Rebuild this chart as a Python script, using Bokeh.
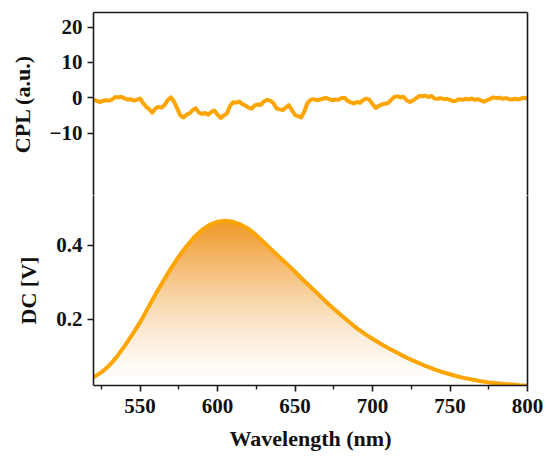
import numpy as np
from bokeh.plotting import figure
from bokeh.layouts import column
from bokeh.models import Range1d, LinearAxis, FixedTicker
from bokeh.embed import file_html
from bokeh.resources import INLINE

# ---------------- data ----------------
cpl_wavelength = list(range(520, 802, 2))
cpl_values = [
    -0.5, -0.9, -1.2, -0.9, -0.7, -0.8, -0.5, 0.2, 0.1, 0.3,
    -0.2, -0.5, -0.4, -0.8, -0.6, -0.2, -1.5, -2.6, -3.3, -4.2,
    -3.0, -2.6, -2.8, -2.0, -0.6, 0.1, -1.2, -3.0, -5.0, -5.6,
    -4.8, -4.4, -3.5, -3.0, -4.2, -4.6, -4.3, -4.8, -4.0, -3.6,
    -4.8, -5.7, -5.0, -4.5, -2.4, -1.3, -1.4, -1.1, -1.8, -2.2,
    -2.8, -3.1, -2.2, -1.9, -2.0, -1.0, -0.6, -0.8, -1.5, -3.0,
    -3.3, -3.5, -2.8, -2.1, -3.5, -4.9, -5.2, -5.6, -3.9, -1.5,
    -0.6, -0.4, -0.7, -0.5, -0.3, 0.0, -0.4, -0.7, -0.5, -0.6,
    -0.1, 0.0, -0.9, -1.3, -1.6, -1.2, -1.4, -0.6, -0.2, -0.6,
    -1.8, -2.9, -2.3, -1.9, -1.7, -1.5, -0.6, 0.2, 0.4, 0.1,
    0.3, -0.7, -1.2, -0.8, -0.2, 0.5, 0.4, 0.6, 0.2, 0.5,
    -0.2, -0.3, -0.1, -0.4, -0.3, -0.6, -1.0, -0.8, -0.4, -0.6,
    -0.3, -0.5, -0.2, -0.6, -0.4, -0.8, -1.1, -0.7, -0.3, 0.1,
    -0.1, 0.0, -0.3, -0.1, -0.4, -0.5, -0.3, -0.5, -0.2, 0.0,
    -0.2,
]

dc_wavelength = list(range(520, 805, 5))
dc_values = [
    0.044, 0.057, 0.075, 0.099, 0.128, 0.159, 0.192, 0.230, 0.268, 0.304,
    0.338, 0.370, 0.398, 0.423, 0.442, 0.456, 0.464, 0.467, 0.464, 0.456,
    0.445, 0.428, 0.408, 0.388, 0.368, 0.349, 0.329, 0.308, 0.288, 0.268,
    0.248, 0.229, 0.211, 0.193, 0.176, 0.161, 0.148, 0.135, 0.123, 0.112,
    0.101, 0.091, 0.082, 0.073, 0.065, 0.058, 0.052, 0.046, 0.041, 0.037,
    0.033, 0.030, 0.028, 0.026, 0.024, 0.022, 0.021,
]

x_ticks = [550, 600, 650, 700, 750, 800]
x_minor = [525, 575, 625, 675, 725, 775]
cpl_ticks = [-10, 0, 10, 20]
dc_ticks = [0.2, 0.4]

# ---------------- styles ----------------
FONT = "Liberation Serif"
AX = "#1a1a1a"
LINE = "#FFA500"
W = 546
LEFT, RIGHT = 93, 19

xr = Range1d(520, 800)


def frame_axis(**kw):
    return LinearAxis(ticker=FixedTicker(ticks=[]), major_tick_out=0, major_tick_in=0,
                      minor_tick_out=0, minor_tick_in=0, major_label_text_font_size="0px",
                      major_label_standoff=0, axis_line_color=AX, axis_line_width=1.6, **kw)


def style_y(ax, label):
    ax.axis_label = label
    ax.axis_label_text_font = FONT
    ax.axis_label_text_font_style = "bold"
    ax.axis_label_text_font_size = "22px"
    ax.axis_label_text_color = "#111111"
    ax.axis_label_standoff = 12
    ax.major_label_text_font = FONT
    ax.major_label_text_font_style = "bold"
    ax.major_label_text_font_size = "21px"
    ax.major_label_text_color = "#111111"
    ax.major_label_standoff = 5
    ax.major_tick_out = 6
    ax.major_tick_in = 0
    ax.minor_tick_out = 0
    ax.minor_tick_in = 0
    ax.axis_line_color = AX
    ax.axis_line_width = 1.6
    ax.major_tick_line_color = AX
    ax.major_tick_line_width = 1.6


# ---------------- top panel: CPL ----------------
p1 = figure(width=W, height=195, x_range=xr, y_range=Range1d(-27.7, 24.16),
            x_axis_location=None, toolbar_location=None, output_backend="svg",
            min_border_left=LEFT, min_border_right=RIGHT, min_border_top=12,
            min_border_bottom=0, outline_line_color=None,
            background_fill_color="white", border_fill_color="white")
p1.xgrid.visible = False
p1.ygrid.visible = False
p1.yaxis.ticker = FixedTicker(ticks=cpl_ticks, minor_ticks=[])
style_y(p1.yaxis[0], "CPL (a.u.)")
p1.add_layout(frame_axis(), "above")
p1.add_layout(frame_axis(), "right")
p1.line(cpl_wavelength, cpl_values, line_color=LINE, line_width=4, line_join="round")

# ---------------- bottom panel: DC ----------------
dc_range = Range1d(0.0216, 0.535)
p2 = figure(width=W, height=262, x_range=xr, y_range=dc_range,
            toolbar_location=None, output_backend="svg",
            min_border_left=LEFT, min_border_right=RIGHT, min_border_top=0,
            min_border_bottom=72, outline_line_color=None,
            background_fill_color="white", border_fill_color="white")
p2.xgrid.visible = False
p2.ygrid.visible = False
p2.yaxis.ticker = FixedTicker(ticks=dc_ticks, minor_ticks=[])
style_y(p2.yaxis[0], "DC [V]")
p2.add_layout(frame_axis(), "right")

xa = p2.xaxis[0]
xa.ticker = FixedTicker(ticks=x_ticks, minor_ticks=x_minor)
xa.axis_label = "Wavelength (nm)"
xa.axis_label_text_font = FONT
xa.axis_label_text_font_style = "bold"
xa.axis_label_text_font_size = "22px"
xa.axis_label_text_color = "#111111"
xa.axis_label_standoff = 10
xa.major_label_text_font = FONT
xa.major_label_text_font_style = "bold"
xa.major_label_text_font_size = "21px"
xa.major_label_text_color = "#111111"
xa.major_label_standoff = 7
xa.major_tick_out = 6
xa.major_tick_in = 0
xa.minor_tick_out = 4
xa.minor_tick_in = 0
xa.axis_line_color = AX
xa.axis_line_width = 1.6
xa.major_tick_line_color = AX
xa.major_tick_line_width = 1.6
xa.minor_tick_line_color = AX
xa.minor_tick_line_width = 1.4

# gradient fill under the DC curve: opaque bands drawn from bottom to top
dc = np.array(dc_values)
base = np.array([240, 152, 40])
levels = np.linspace(0.0216, 0.47, 56)
for lk in levels[:-1]:
    t = np.clip((lk - 0.03) / 0.43, 0, 1) ** 1.35
    rgb = (255 * (1 - t) + base * t).astype(int)
    col = "#%02x%02x%02x" % tuple(rgb)
    p2.varea(x=dc_wavelength, y1=np.minimum(dc, lk), y2=dc, fill_color=col, fill_alpha=1.0)

p2.line(dc_wavelength, dc_values, line_color=LINE, line_width=4, line_join="round")

layout = column(p1, p2, spacing=0)
open("out.html", "w").write(file_html(layout, INLINE))
